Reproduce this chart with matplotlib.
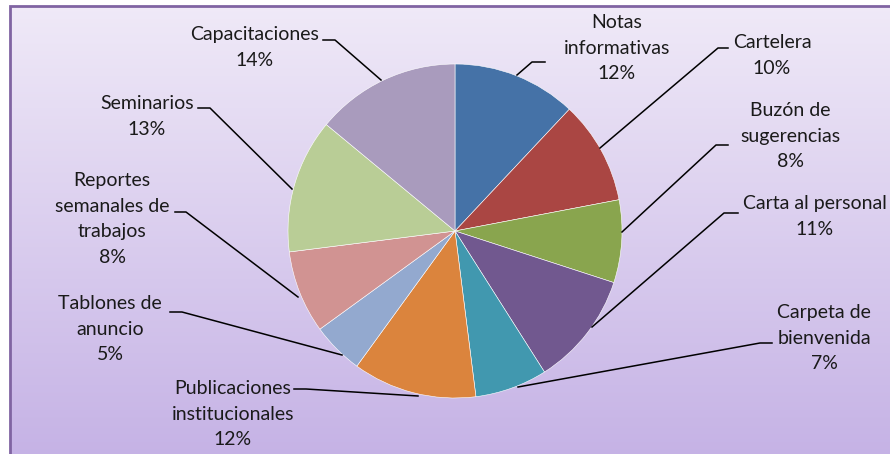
import numpy as np
import matplotlib.pyplot as plt
from matplotlib.patches import Rectangle

labels = ["Notas\ninformativas", "Cartelera", "Buzón de\nsugerencias", "Carta al personal",
          "Carpeta de\nbienvenida", "Publicaciones\ninstitucionales", "Tablones de\nanuncio",
          "Reportes\nsemanales de\ntrabajos", "Seminarios", "Capacitaciones"]
values = [12, 10, 8, 11, 7, 12, 5, 8, 13, 14]
colors = ["#4572A7", "#AA4643", "#89A54E", "#71588F", "#4198AF",
          "#DB843D", "#93A9CF", "#D19392", "#B9CD96", "#A99BBD"]

# label block centre x, y of first text line; leader line: pie point -> elbow -> end
label_pos = [(617, 22), (772, 42), (790, 110), (815, 203), (824, 312),
             (233, 388), (110, 303), (112, 180), (147, 103), (255, 34)]
leaders = [((517, 75), (532, 62), (545, 62)),
           ((600, 148), (718, 48), (728, 48)),
           ((622, 232), (716, 145), (728, 145)),
           ((592, 327), (724, 213), (738, 213)),
           ((518, 387), (760, 343), (772, 343)),
           ((418, 396), (306, 389), (294, 389)),
           ((342, 355), (182, 312), (170, 312)),
           ((298, 297), (186, 212), (175, 212)),
           ((292, 189), (210, 108), (198, 108)),
           ((381, 80), (335, 40), (323, 40))]

W, H = 890, 454
fig = plt.figure(figsize=(W / 100, H / 100), dpi=100)
fig.patch.set_facecolor("white")
ax = fig.add_axes([0, 0, 1, 1])

ax.pie(values, colors=colors, startangle=90, counterclock=False,
       center=(455, H - 231), radius=167, frame=True,
       wedgeprops=dict(linewidth=0.4, edgecolor="#ffffff", zorder=2))

# gradient panel drawn as thin horizontal bands, then its purple frame
top = np.array([0xEF, 0xE9, 0xF7]) / 255
bot = np.array([0xC5, 0xB2, 0xE5]) / 255
y_hi = H - 6
for i in range(int(y_hi) + 1):
    t = i / y_hi
    ax.add_patch(Rectangle((10, y_hi - i - 1), W + 20, 1.05, facecolor=top + (bot - top) * t,
                           edgecolor="none", zorder=0))
ax.add_patch(Rectangle((10, -30), W + 60, y_hi + 30, fill=False,
                       edgecolor="#8064A2", lw=2, zorder=1))

ax.set_xlim(0, W)
ax.set_ylim(0, H)
ax.set_aspect("auto")
ax.axis("off")

for lab, v, (x, y), pts in zip(labels, values, label_pos, leaders):
    ax.text(x, H - y + 8, f"{lab}\n{v}%", ha="center", va="top", fontsize=14,
            family="Lato", color="#1a1a1a", linespacing=1.62, zorder=5)
    xs = [p[0] for p in pts]
    ys = [H - p[1] for p in pts]
    ax.plot(xs, ys, color="black", lw=1.1, zorder=4)

fig.savefig("out.png", dpi=100)
